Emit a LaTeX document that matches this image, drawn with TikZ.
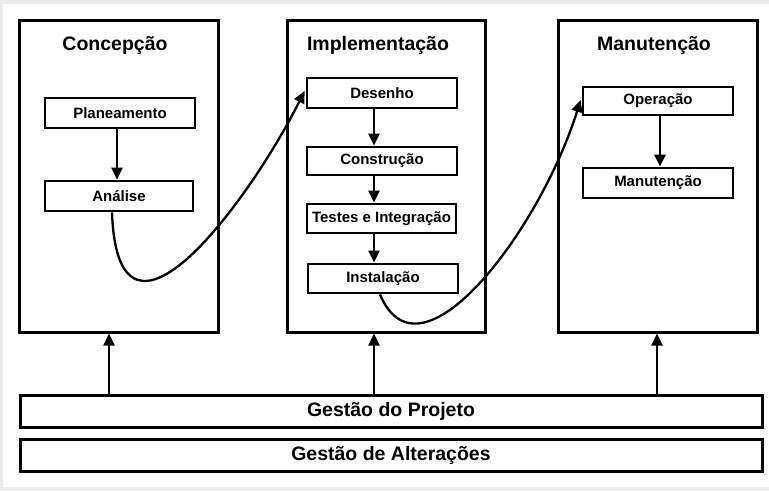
\documentclass[tikz,border=0pt]{standalone}
\usepackage{fontspec}
\setmainfont{Liberation Sans}
\usetikzlibrary{arrows.meta,calc}
\definecolor{bggray}{HTML}{EBEBEB}
\begin{document}
\begin{tikzpicture}[x=1pt,y=-1pt,
  phase/.style={draw,line width=3pt,minimum width=199pt,minimum height=312pt,inner sep=0pt},
  stepbox/.style={draw,line width=2.8pt,minimum width=150pt,minimum height=30pt,inner sep=0pt,font=\fontsize{15}{17}\selectfont\bfseries},
  bar/.style={draw,line width=3pt,minimum width=742pt,minimum height=32pt,inner sep=0pt,font=\fontsize{19.5}{22}\selectfont\bfseries},
  title/.style={font=\fontsize{19.5}{22}\selectfont\bfseries,inner sep=0pt},
  arr/.style={line width=2.3pt,-{Triangle[length=12pt,width=11pt]}},
]
\useasboundingbox (0,0) rectangle (769,491);
\fill[bggray] (0,0) rectangle (769,491);
\fill[white] (3,4) rectangle (769,487);

% phases
\node[phase] (C) at (118.5,176) {};
\node[phase,minimum width=198pt] (I) at (386,176) {};
\node[phase] (M) at (657.5,176) {};
\node[title] (tC) at (115,45) {Concepção};
\node[title] (tI) at (378,45) {Implementação};
\node[title] (tM) at (654,45) {Manutenção};

% steps
\node[stepbox] (pl) at (120,113) {Planeamento};
\node[stepbox,minimum width=148pt] (an) at (119,196) {Análise};
\node[stepbox] (de) at (382,93) {Desenho};
\node[stepbox,minimum height=28pt] (co) at (382,161) {Construção};
\node[stepbox,minimum width=149pt,minimum height=29pt] (te) at (381.5,218.5) {Testes e Integração};
\node[stepbox,minimum height=29pt] (in) at (383,278.5) {Instalação};
\node[stepbox,minimum height=28pt] (op) at (658,101) {Operação};
\node[stepbox] (ma) at (658,183) {Manutenção};

% bars
\node[bar] (gp) at (391,411) {Gestão do Projeto};
\node[bar] (ga) at (391,455) {Gestão de Alterações};

% x positions of vertical arrows
\coordinate (xa) at (117,0);
\coordinate (xb) at (374,0);
\coordinate (xc) at (660,0);
\coordinate (x1) at (109,0);
\coordinate (x2) at (374,0);
\coordinate (x3) at (657,0);

\draw[arr] (pl.south -| xa) -- (an.north -| xa);
\draw[arr] (de.south -| xb) -- (co.north -| xb);
\draw[arr] (co.south -| xb) -- (te.north -| xb);
\draw[arr] (te.south -| xb) -- (in.north -| xb);
\draw[arr] (op.south -| xc) -- (ma.north -| xc);

\draw[arr] (gp.north -| x1) -- (C.south -| x1);
\draw[arr] (gp.north -| x2) -- (I.south -| x2);
\draw[arr] (gp.north -| x3) -- (M.south -| x3);

% curved transitions
\draw[arr] ($(an.south)+(-7,0)$) .. controls (118,380) and (250,200) .. ($(de.west)+(-1,-2)$);
\draw[arr] ($(in.south)+(-3,0)$) .. controls (420,390) and (540,230) .. ($(op.west)+(-1,-1)$);
\end{tikzpicture}
\end{document}
